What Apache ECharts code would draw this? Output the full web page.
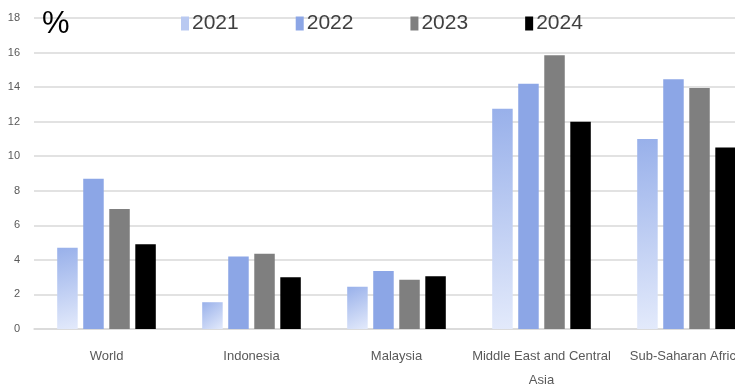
<!DOCTYPE html>
<html><head><meta charset="utf-8">
<script src="https://cdn.jsdelivr.net/npm/echarts@6/dist/echarts.min.js"></script>
<style>html,body{margin:0;padding:0;background:#fff}#c{width:735px;height:391px}</style>
</head><body><div id="c"></div>
<script>
const categories = ['World', 'Indonesia', 'Malaysia', 'Middle East and Central\nAsia', 'Sub-Saharan Africa'];
const seriesNames = ['2021', '2022', '2023', '2024'];
const v2021 = [4.7, 1.55, 2.45, 12.75, 11.0];
const v2022 = [8.7, 4.2, 3.35, 14.2, 14.45];
const v2023 = [6.95, 4.35, 2.85, 15.85, 13.95];
const v2024 = [4.9, 3.0, 3.05, 12.0, 10.5];
const yTicks = [0, 2, 4, 6, 8, 10, 12, 14, 16, 18];

const FONT = "'Liberation Sans Narrow', 'Liberation Sans', sans-serif";
const lightGrad = new echarts.graphic.LinearGradient(0, 0, 1, 1, [
  {offset: 0, color: '#98b0ea'}, {offset: 1, color: '#e3eafb'}]);
const colors = [lightGrad, '#8ca6e6', '#7f7f7f', '#000000'];
const legendColors = ['#b9c9f1', '#8ca6e6', '#7f7f7f', '#000000'];
const values = [v2021, v2022, v2023, v2024];

const chart = echarts.init(document.getElementById('c'), null, {renderer: 'canvas'});
chart.setOption({
  animation: false,
  title: {text: '%', left: 37, top: 4, textStyle: {fontSize: 31, fontWeight: 'normal', color: '#000', fontFamily: FONT}},
  legend: {
    top: 8, left: 176, itemGap: 57, itemWidth: 8, itemHeight: 14, icon: 'rect',
    textStyle: {fontSize: 21, color: '#404040', fontFamily: FONT, padding: [0, 0, 0, -2]},
    data: seriesNames.map((n, i) => ({name: n, itemStyle: {color: legendColors[i]}}))
  },
  grid: {left: 34, right: -24, top: 18, bottom: 62, containLabel: false, outerBoundsMode: 'none'},
  xAxis: {
    type: 'category', data: categories,
    axisLine: {lineStyle: {color: '#d9d9d9', width: 1.5}},
    axisTick: {show: false},
    axisLabel: {fontSize: 13, color: '#595959', fontFamily: FONT, margin: 15, lineHeight: 24, interval: 0, hideOverlap: false}
  },
  yAxis: {
    type: 'value', min: 0, max: 18, interval: 2,
    axisLabel: {fontSize: 11, color: '#595959', fontFamily: FONT, margin: 14,
      formatter: v => yTicks.includes(v) ? String(v) : ''},
    splitLine: {lineStyle: {color: '#d9d9d9', width: 1.5}},
    axisLine: {show: false}, axisTick: {show: false}
  },
  series: values.map((d, i) => ({
    name: seriesNames[i], type: 'bar', data: d, barWidth: 20.5, barGap: '27%',
    itemStyle: {color: colors[i]}
  }))
});
</script></body></html>
